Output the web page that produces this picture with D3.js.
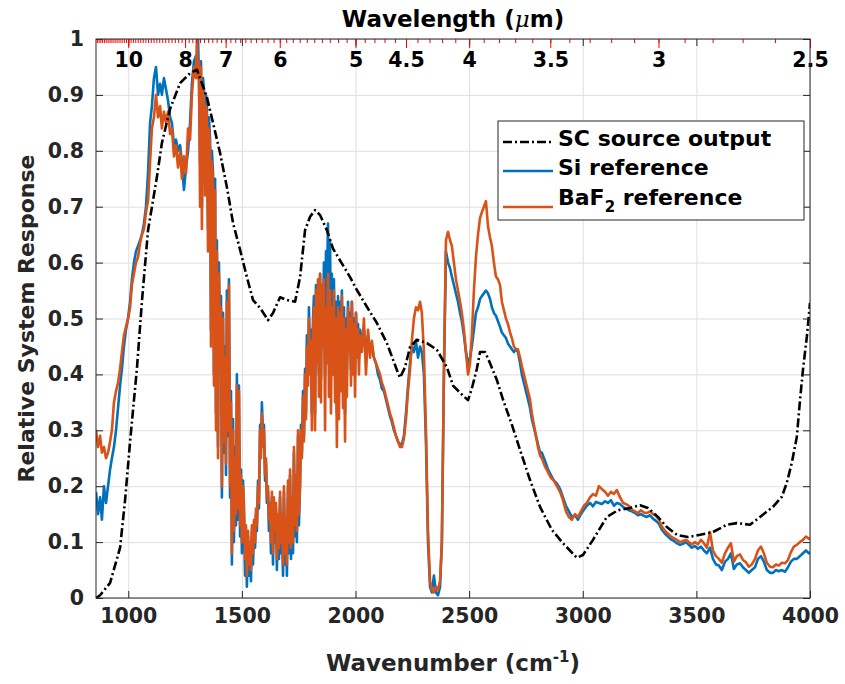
<!DOCTYPE html>
<html>
<head>
<meta charset="utf-8">
<script src="https://cdn.jsdelivr.net/npm/d3@7"></script>
<style>
body { margin: 0; background: #fff; }
text { font-family: "DejaVu Sans", sans-serif; font-weight: bold; }
</style>
</head>
<body>
<svg id="chart" width="845" height="684"></svg>
<script>
// SC source output (dash-dot curve)
let wnSC = [858, 876, 920, 964, 986, 1008, 1038, 1060, 1087, 1126, 1148, 1184, 1228, 1272, 1302, 1346, 1373, 1404, 1434, 1461,
    1492, 1522, 1549, 1580, 1615, 1637, 1668, 1698, 1734, 1756, 1778, 1800, 1822, 1844, 1874, 1901, 1945, 1976, 2006, 2050,
    2094, 2138, 2182, 2196, 2218, 2240, 2270, 2314, 2358, 2402, 2429, 2473, 2495, 2512, 2534, 2548, 2570, 2592, 2622, 2649,
    2688, 2724, 2768, 2812, 2864, 2913, 2974, 3001, 3045, 3106, 3155, 3208, 3252, 3287, 3331, 3370, 3414, 3463, 3516, 3573,
    3634, 3678, 3736, 3780, 3837, 3876, 3898, 3920, 3942, 3956, 3969, 3986, 4000];
let scOut = [0.0, 0.005, 0.027, 0.09, 0.175, 0.28, 0.41, 0.53, 0.658, 0.753, 0.814, 0.875, 0.921, 0.939, 0.945, 0.896, 0.85, 0.796, 0.735, 0.671,
    0.623, 0.574, 0.533, 0.519, 0.497, 0.51, 0.538, 0.533, 0.53, 0.574, 0.658, 0.682, 0.694, 0.685, 0.658, 0.625, 0.595, 0.574, 0.551, 0.521,
    0.492, 0.456, 0.408, 0.394, 0.413, 0.449, 0.462, 0.456, 0.444, 0.413, 0.38, 0.362, 0.354, 0.375, 0.41, 0.44, 0.44, 0.42, 0.39, 0.355,
    0.31, 0.265, 0.211, 0.163, 0.122, 0.098, 0.072, 0.077, 0.104, 0.145, 0.157, 0.161, 0.166, 0.161, 0.145, 0.127, 0.113, 0.109, 0.113, 0.118,
    0.131, 0.134, 0.131, 0.145, 0.163, 0.181, 0.206, 0.242, 0.288, 0.354, 0.408, 0.467, 0.528];

// wavenumber grid shared by the two reference measurements
let wnRef = [858, 867, 876, 884, 893, 902, 911, 920, 928, 937, 946, 955, 964, 972, 981, 990, 999, 1008, 1016, 1025,
    1034, 1043, 1052, 1060, 1069, 1078, 1087, 1096, 1104, 1113, 1122, 1131, 1140, 1148, 1157, 1166, 1175, 1184, 1192, 1201,
    1210, 1219, 1228, 1236, 1245, 1254, 1263, 1272, 1280, 1289,
    1298, 1302, 1307, 1311, 1316, 1320, 1324, 1329, 1333, 1338, 1342, 1346, 1351, 1355, 1360, 1364, 1368, 1373, 1377, 1382,
    1386, 1390, 1395, 1399, 1404, 1408, 1412, 1417, 1421, 1426, 1430, 1434, 1439, 1443, 1448, 1452, 1456, 1461, 1465, 1470,
    1474, 1478, 1483, 1487, 1492, 1496, 1500, 1505, 1509, 1514, 1518, 1522, 1527, 1531, 1536, 1540, 1544, 1549, 1553, 1558,
    1562, 1566, 1571, 1575, 1580, 1584, 1588, 1593, 1597, 1602, 1606, 1610, 1615, 1619, 1624, 1628, 1632, 1637, 1641, 1646,
    1650, 1654, 1659, 1663, 1668, 1672, 1676, 1681, 1685, 1690, 1694, 1698, 1703, 1707, 1712, 1716, 1720, 1725, 1729, 1734,
    1738, 1742, 1747, 1751, 1756, 1760, 1764, 1769, 1773, 1778, 1782, 1786, 1791, 1795, 1800, 1804, 1808, 1813, 1817, 1822,
    1826, 1830, 1835, 1839, 1844, 1848, 1852, 1857, 1861, 1866, 1870, 1874, 1879, 1883, 1888, 1892, 1896, 1901, 1905, 1910,
    1914, 1918, 1923, 1927, 1932, 1936, 1940, 1945, 1949, 1954, 1958, 1962, 1967, 1971, 1976, 1980, 1984, 1989, 1993, 1998,
    2002, 2006, 2011, 2015, 2020,
    2028, 2037, 2046, 2055, 2064, 2072, 2081, 2090, 2099, 2108, 2116, 2125, 2134, 2143, 2152, 2160, 2169, 2178, 2187, 2196,
    2204, 2213, 2222, 2231, 2240, 2248, 2257, 2266, 2275, 2284, 2292, 2301, 2310, 2319, 2328, 2336, 2345, 2354, 2363, 2372,
    2380, 2389, 2398, 2407, 2416, 2424, 2433, 2442, 2451, 2460, 2468, 2477, 2486, 2495, 2504, 2512, 2521, 2530, 2539, 2548,
    2556, 2565, 2574, 2583, 2592, 2600, 2609, 2618, 2627, 2636, 2644, 2653, 2662, 2671, 2680, 2688, 2697, 2706, 2715, 2724,
    2732, 2741, 2750, 2759, 2768, 2776, 2785, 2794, 2803, 2812,
    2820, 2834, 2847, 2860, 2873, 2886, 2900, 2913, 2926, 2939, 2952, 2966, 2979, 2992, 3005, 3018, 3032, 3045, 3058, 3071,
    3084, 3098, 3111, 3124, 3137, 3150, 3164, 3177, 3190, 3203, 3216, 3230, 3243, 3256, 3269, 3282, 3296, 3309, 3322, 3335,
    3348, 3362, 3375, 3388, 3401, 3414, 3428, 3441, 3454, 3467, 3480, 3494, 3507, 3520, 3533, 3546, 3560, 3573, 3586, 3599,
    3612, 3626, 3639, 3652, 3665, 3678, 3692, 3705, 3718, 3731, 3744, 3758, 3771, 3784, 3797, 3810, 3824, 3837, 3850, 3863,
    3876, 3890, 3903, 3916, 3929, 3942, 3956, 3969, 3982, 3995, 4000];

// Si reference
let siRef = [0.19, 0.15, 0.18, 0.14, 0.20, 0.17, 0.20, 0.23, 0.25, 0.27, 0.30, 0.34, 0.38, 0.41, 0.45, 0.48, 0.50, 0.53, 0.57, 0.60,
    0.62, 0.63, 0.64, 0.65, 0.67, 0.70, 0.76, 0.85, 0.88, 0.93, 0.95, 0.90, 0.92, 0.90, 0.93, 0.91, 0.89, 0.86, 0.85, 0.81,
    0.82, 0.80, 0.81, 0.78, 0.73, 0.77, 0.80, 0.85, 0.92, 0.96,
    0.97, 0.96, 1.0, 0.93, 0.78, 0.96, 0.70, 0.93, 0.91, 0.76, 0.90, 0.88, 0.66, 0.86, 0.82, 0.48, 0.80, 0.76, 0.40, 0.75,
    0.33, 0.64, 0.27, 0.60, 0.44, 0.54, 0.18, 0.51, 0.26, 0.45, 0.22, 0.55, 0.29, 0.57, 0.18, 0.37, 0.06, 0.32, 0.10, 0.27,
    0.13, 0.40, 0.14, 0.38, 0.11, 0.23, 0.08, 0.21, 0.15, 0.04, 0.11, 0.02, 0.11, 0.04, 0.09, 0.03, 0.12, 0.06, 0.13, 0.09,
    0.15, 0.12, 0.21, 0.16, 0.31, 0.27, 0.35, 0.29, 0.31, 0.21, 0.24, 0.17, 0.19, 0.12, 0.16, 0.08, 0.18, 0.06, 0.17, 0.10,
    0.16, 0.05, 0.14, 0.07, 0.18, 0.08, 0.14, 0.04, 0.19, 0.06, 0.13, 0.04, 0.20, 0.08, 0.22, 0.07, 0.17, 0.08, 0.26, 0.11,
    0.21, 0.10, 0.29, 0.13, 0.21, 0.31, 0.26, 0.37, 0.29, 0.41, 0.33, 0.47, 0.40, 0.52, 0.42, 0.48, 0.33, 0.50, 0.54, 0.33,
    0.56, 0.45, 0.53, 0.40, 0.58, 0.39, 0.56, 0.49, 0.60, 0.40, 0.62, 0.55, 0.67, 0.50, 0.64, 0.42, 0.58, 0.46, 0.57, 0.40,
    0.53, 0.33, 0.54, 0.37, 0.53, 0.41, 0.55, 0.38, 0.52, 0.33, 0.50, 0.40, 0.53, 0.46, 0.51, 0.41, 0.53, 0.43, 0.50, 0.40,
    0.51, 0.45, 0.49, 0.43, 0.48,
    0.46, 0.48, 0.44, 0.47, 0.44, 0.45, 0.43, 0.42, 0.40, 0.39, 0.375, 0.37, 0.355, 0.34, 0.325, 0.315, 0.30, 0.29, 0.28, 0.275,
    0.275, 0.29, 0.33, 0.38, 0.42, 0.45, 0.44, 0.46, 0.43, 0.45, 0.44, 0.40, 0.28, 0.10, 0.02, 0.01, 0.04, 0.01, 0.005, 0.02,
    0.10, 0.40, 0.62, 0.60, 0.59, 0.575, 0.56, 0.545, 0.53, 0.51, 0.495, 0.47, 0.44, 0.42, 0.43, 0.45, 0.48, 0.51, 0.52, 0.535,
    0.54, 0.545, 0.55, 0.545, 0.535, 0.52, 0.51, 0.505, 0.495, 0.485, 0.475, 0.47, 0.465, 0.455, 0.45, 0.445, 0.44, 0.445, 0.44, 0.42,
    0.40, 0.385, 0.37, 0.355, 0.34, 0.32, 0.305, 0.29, 0.275, 0.26,
    0.26, 0.245, 0.23, 0.22, 0.21, 0.205, 0.195, 0.18, 0.165, 0.155, 0.145, 0.148, 0.14, 0.15, 0.158, 0.165, 0.17, 0.164, 0.172, 0.17,
    0.168, 0.173, 0.17, 0.175, 0.165, 0.17, 0.168, 0.163, 0.16, 0.157, 0.155, 0.152, 0.148, 0.15, 0.147, 0.145, 0.148, 0.142, 0.138, 0.133,
    0.122, 0.115, 0.11, 0.105, 0.102, 0.098, 0.095, 0.097, 0.10, 0.095, 0.09, 0.093, 0.088, 0.092, 0.085, 0.08, 0.09, 0.07, 0.06, 0.058,
    0.05, 0.065, 0.07, 0.08, 0.052, 0.06, 0.062, 0.055, 0.05, 0.045, 0.05, 0.055, 0.07, 0.075, 0.065, 0.05, 0.045, 0.045, 0.05, 0.048,
    0.05, 0.047, 0.055, 0.065, 0.07, 0.07, 0.075, 0.08, 0.085, 0.08, 0.082];

// BaF2 reference
let baf2Ref = [0.30, 0.27, 0.29, 0.26, 0.27, 0.25, 0.26, 0.28, 0.30, 0.35, 0.37, 0.385, 0.41, 0.44, 0.47, 0.485, 0.50, 0.52, 0.56, 0.58,
    0.60, 0.61, 0.635, 0.65, 0.66, 0.69, 0.71, 0.78, 0.84, 0.86, 0.90, 0.86, 0.88, 0.84, 0.87, 0.85, 0.87, 0.83, 0.84, 0.79,
    0.81, 0.77, 0.80, 0.75, 0.79, 0.76, 0.84, 0.82, 0.90, 0.95,
    0.93, 1.0, 0.93, 0.96, 0.70, 0.95, 0.66, 0.91, 0.89, 0.72, 0.88, 0.86, 0.62, 0.84, 0.80, 0.45, 0.78, 0.74, 0.38, 0.73,
    0.30, 0.62, 0.25, 0.58, 0.42, 0.52, 0.20, 0.50, 0.28, 0.43, 0.24, 0.53, 0.30, 0.56, 0.20, 0.35, 0.08, 0.30, 0.12, 0.25,
    0.15, 0.38, 0.16, 0.37, 0.13, 0.22, 0.10, 0.20, 0.17, 0.07, 0.13, 0.04, 0.12, 0.06, 0.10, 0.05, 0.13, 0.08, 0.14, 0.10,
    0.16, 0.13, 0.20, 0.17, 0.30, 0.25, 0.33, 0.27, 0.30, 0.22, 0.25, 0.18, 0.20, 0.14, 0.17, 0.10, 0.19, 0.08, 0.18, 0.12,
    0.17, 0.07, 0.15, 0.09, 0.19, 0.10, 0.15, 0.06, 0.20, 0.08, 0.14, 0.06, 0.21, 0.10, 0.23, 0.09, 0.18, 0.10, 0.27, 0.13,
    0.22, 0.12, 0.30, 0.15, 0.20, 0.30, 0.25, 0.36, 0.28, 0.40, 0.32, 0.45, 0.38, 0.50, 0.40, 0.46, 0.30, 0.48, 0.52, 0.30,
    0.55, 0.42, 0.57, 0.36, 0.58, 0.35, 0.56, 0.45, 0.57, 0.30, 0.52, 0.42, 0.58, 0.36, 0.55, 0.33, 0.52, 0.40, 0.55, 0.35,
    0.50, 0.27, 0.52, 0.32, 0.51, 0.37, 0.54, 0.34, 0.50, 0.28, 0.48, 0.36, 0.52, 0.44, 0.50, 0.38, 0.53, 0.40, 0.49, 0.36,
    0.51, 0.43, 0.48, 0.40, 0.47,
    0.44, 0.50, 0.40, 0.48, 0.43, 0.46, 0.43, 0.42, 0.41, 0.40, 0.385, 0.375, 0.36, 0.345, 0.33, 0.32, 0.305, 0.29, 0.28, 0.27,
    0.27, 0.285, 0.32, 0.37, 0.41, 0.46, 0.50, 0.52, 0.515, 0.53, 0.51, 0.44, 0.30, 0.12, 0.03, 0.015, 0.01, 0.02, 0.015, 0.03,
    0.10, 0.40, 0.64, 0.655, 0.64, 0.63, 0.60, 0.57, 0.55, 0.53, 0.51, 0.48, 0.44, 0.40, 0.42, 0.47, 0.55, 0.61, 0.65, 0.68,
    0.69, 0.70, 0.71, 0.665, 0.645, 0.63, 0.60, 0.575, 0.57, 0.56, 0.53, 0.515, 0.50, 0.49, 0.475, 0.465, 0.45, 0.445, 0.445, 0.43,
    0.415, 0.40, 0.385, 0.37, 0.355, 0.33, 0.31, 0.29, 0.27, 0.255,
    0.25, 0.235, 0.225, 0.215, 0.21, 0.20, 0.19, 0.175, 0.155, 0.145, 0.14, 0.15, 0.145, 0.155, 0.165, 0.17, 0.18, 0.186, 0.183, 0.20,
    0.195, 0.19, 0.183, 0.19, 0.186, 0.193, 0.18, 0.17, 0.168, 0.165, 0.158, 0.155, 0.152, 0.157, 0.153, 0.152, 0.155, 0.15, 0.147, 0.14,
    0.128, 0.12, 0.115, 0.11, 0.107, 0.104, 0.10, 0.102, 0.104, 0.10, 0.096, 0.10, 0.096, 0.104, 0.098, 0.09, 0.118, 0.085, 0.075, 0.07,
    0.063, 0.08, 0.09, 0.098, 0.065, 0.075, 0.078, 0.068, 0.064, 0.056, 0.06, 0.07, 0.085, 0.092, 0.08, 0.063, 0.056, 0.055, 0.06, 0.058,
    0.063, 0.062, 0.068, 0.082, 0.092, 0.095, 0.10, 0.104, 0.11, 0.106, 0.108];

let xTicks = [1000, 1500, 2000, 2500, 3000, 3500, 4000];
let yTicks = [0, 0.1, 0.2, 0.3, 0.4, 0.5, 0.6, 0.7, 0.8, 0.9, 1];
let lambdaLabels = [10, 8, 7, 6, 5, 4.5, 4, 3.5, 3, 2.5];
let lambdaMinor = d3.range(25, 117).map(d => d / 10);

let svg = d3.select("#chart"),
    mLeft = 96, mRight = 810, mTop = 39, mBottom = 598;

let xScale = d3.scaleLinear().domain([858, 4000]).range([mLeft, mRight]),
    yScale = d3.scaleLinear().domain([0, 1]).range([mBottom, mTop]);

svg.append("rect").attr("width", 845).attr("height", 684).attr("fill", "#fff");

svg.append("clipPath").attr("id", "plotClip")
    .append("rect").attr("x", mLeft).attr("y", mTop).attr("width", mRight - mLeft).attr("height", mBottom - mTop);

// grid
svg.append("g")
    .attr("transform", "translate(0," + mBottom + ")")
    .call(d3.axisBottom(xScale).tickValues(xTicks).tickSize(-(mBottom - mTop)).tickFormat(""))
    .call(g => g.select(".domain").remove())
    .selectAll("line").attr("stroke", "#dfdfdf");
svg.append("g")
    .attr("transform", "translate(" + mLeft + ",0)")
    .call(d3.axisLeft(yScale).tickValues(yTicks).tickSize(-(mRight - mLeft)).tickFormat(""))
    .call(g => g.select(".domain").remove())
    .selectAll("line").attr("stroke", "#dfdfdf");

function drawSeries(xs, ys, color, dash) {
    svg.append("path")
        .datum(ys.map((v, i) => [xs[i], v]))
        .attr("clip-path", "url(#plotClip)")
        .attr("fill", "none")
        .attr("stroke", color)
        .attr("stroke-width", 2.6)
        .attr("stroke-linejoin", "round")
        .attr("stroke-dasharray", dash)
        .attr("d", d3.line().x(d => xScale(d[0])).y(d => yScale(d[1])));
}

drawSeries(wnRef, siRef, "#0072BD", null);
drawSeries(wnRef, baf2Ref, "#D95319", null);
drawSeries(wnSC, scOut, "#000", "9,3,2,3");

function styleAxis(g, size) {
    g.attr("font-family", "DejaVu Sans").attr("font-size", size).attr("font-weight", "bold");
    g.select(".domain").remove();
    g.selectAll(".tick line").attr("stroke", "#262626");
    g.selectAll(".tick text").attr("fill", "#262626");
}

// bottom axis
svg.append("g")
    .attr("transform", "translate(0," + mBottom + ")")
    .call(d3.axisBottom(xScale).tickValues(xTicks).tickSizeInner(-7).tickSizeOuter(0).tickPadding(10)
        .tickFormat(d3.format("d")))
    .call(g => styleAxis(g, 20.5));

// left axis
svg.append("g")
    .attr("transform", "translate(" + mLeft + ",0)")
    .call(d3.axisLeft(yScale).tickValues(yTicks).tickSizeInner(-7).tickSizeOuter(0).tickPadding(12).tickFormat(d3.format("")))
    .call(g => styleAxis(g, 20.5));

// mirrored ticks top and right
svg.append("g")
    .attr("transform", "translate(0," + mTop + ")")
    .call(d3.axisBottom(xScale).tickValues(xTicks).tickSize(7).tickFormat(""))
    .call(g => styleAxis(g, 10));
svg.append("g")
    .attr("transform", "translate(" + mRight + ",0)")
    .call(d3.axisLeft(yScale).tickValues(yTicks).tickSize(7).tickFormat(""))
    .call(g => styleAxis(g, 10));

// wavelength axis on top (red ticks)
svg.append("g")
    .attr("transform", "translate(0," + mTop + ")")
    .call(d3.axisBottom(xScale).tickValues(lambdaMinor.map(l => 1e4 / l)).tickSize(4).tickFormat(""))
    .call(g => g.select(".domain").remove())
    .selectAll("line").attr("stroke", "#f00");
svg.append("g")
    .attr("transform", "translate(0," + mTop + ")")
    .call(d3.axisBottom(xScale).tickValues(lambdaLabels.map(l => 1e4 / l)).tickSize(9).tickPadding(4)
        .tickFormat(d => d3.format("")(+(1e4 / d).toFixed(1))))
    .call(g => {
        g.attr("font-family", "DejaVu Sans").attr("font-size", 20.5).attr("font-weight", "bold");
        g.select(".domain").remove();
        g.selectAll(".tick line").attr("stroke", "#f00");
        g.selectAll(".tick text").attr("fill", "#000");
    });

// box
svg.append("rect")
    .attr("x", mLeft).attr("y", mTop)
    .attr("width", mRight - mLeft).attr("height", mBottom - mTop)
    .attr("fill", "none").attr("stroke", "#262626").attr("stroke-width", 1);

// axis titles
svg.append("text")
    .attr("x", (mLeft + mRight) / 2).attr("y", 27)
    .attr("text-anchor", "middle").style("font-size", "23px").attr("fill", "#000")
    .call(t => {
        t.append("tspan").text("Wavelength (");
        t.append("tspan").style("font-style", "italic").style("font-weight", "normal").style("font-family", "DejaVu Serif").text("μ");
        t.append("tspan").text("m)");
    });

svg.append("text")
    .attr("x", (mLeft + mRight) / 2).attr("y", 671)
    .attr("text-anchor", "middle").style("font-size", "23px").attr("fill", "#262626")
    .call(t => {
        t.append("tspan").text("Wavenumber (cm");
        t.append("tspan").attr("dy", -9).style("font-size", "15px").text("-1");
        t.append("tspan").attr("dy", 9).text(")");
    });

svg.append("text")
    .attr("transform", "translate(34," + (mTop + mBottom) / 2 + ") rotate(-90)")
    .attr("text-anchor", "middle").style("font-size", "22px").attr("fill", "#262626")
    .text("Relative System Response");

// legend
let legend = svg.append("g");
legend.append("rect")
    .attr("x", 498).attr("y", 121).attr("width", 306).attr("height", 99)
    .attr("fill", "#fff").attr("stroke", "#262626").attr("stroke-width", 1);

let entries = [
    {label: "SC source output", color: "#000", dash: "9,3,2,3", ly: 142, ty: 146},
    {label: "Si reference", color: "#0072BD", dash: null, ly: 171, ty: 175},
    {label: "BaF", sub: "2", rest: " reference", color: "#D95319", dash: null, ly: 207, ty: 205}
];
entries.forEach(e => {
    legend.append("line")
        .attr("x1", 503).attr("x2", 553).attr("y1", e.ly).attr("y2", e.ly)
        .attr("stroke", e.color).attr("stroke-width", 2.6).attr("stroke-dasharray", e.dash);
    let t = legend.append("text").attr("x", 558).attr("y", e.ty)
        .style("font-size", "22px").attr("fill", "#000");
    t.append("tspan").text(e.label);
    if (e.sub) {
        t.append("tspan").attr("dy", 7).style("font-size", "15px").text(e.sub);
        t.append("tspan").attr("dy", -7).text(e.rest);
    }
});
</script>
</body>
</html>
